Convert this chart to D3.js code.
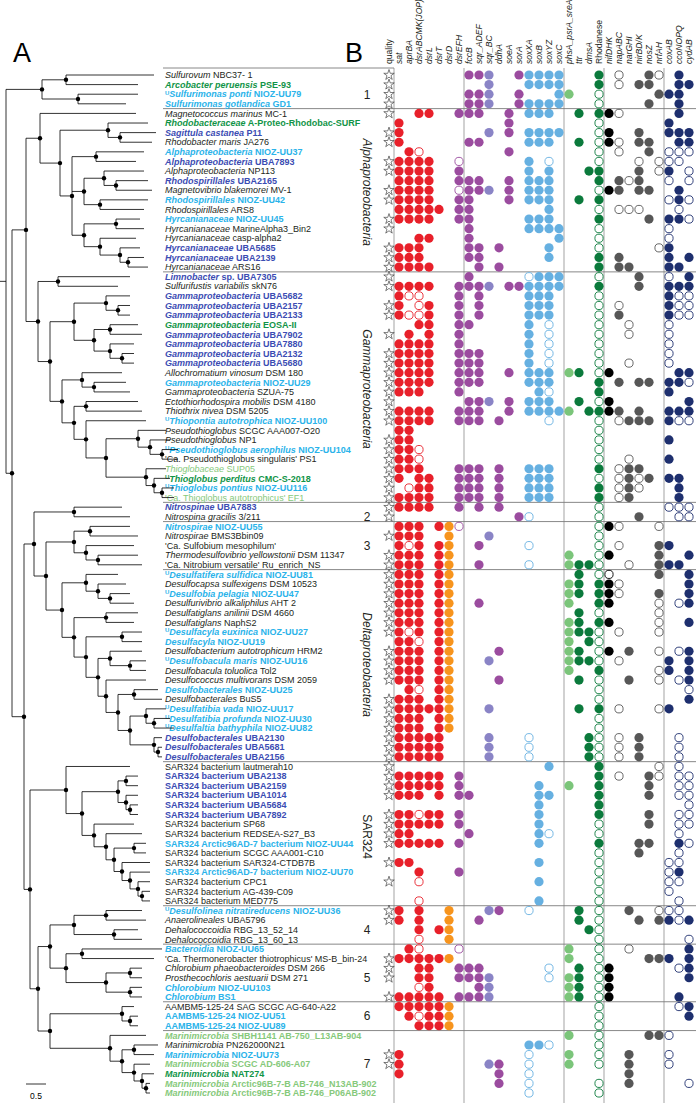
<!DOCTYPE html>
<html><head><meta charset="utf-8">
<script src="https://cdn.jsdelivr.net/npm/d3@7/dist/d3.min.js"></script>
<style>body{margin:0;background:#fff}svg text{font-family:"Liberation Sans",Arial,sans-serif}</style>
</head><body><svg id="c" width="696" height="1103"></svg>
<script>
// ---------------- DATA ----------------
const genes = ["sat","aprBA","dsrABCMK(JOP)","dsrL","dsrT","dsrD","dsrEFH","fccB","sqr_ADEF","sqr_BC","ddhA","soeA","sorA","soxXA","soxB","soxYZ","soxC","phsA_psrA_sreA","ttr","dmsA","Rhodanese","nifDHK","napABC","narGHI","nirBD/K","nosZ","nrfAH","coxAB","ccoNOPQ","cydAB"];
const geneGroup = ["r","r","r","r","r","o","p","p","p","v","p","p","p","b","b","b","b","lg","dg","dg","dg","k","gr","gr","gr","gr","gr","n","n","n"];
// taxa: [superscript U, italic part, plain part, label colour key]
const taxa = [
["","Sulfurovum"," NBC37- 1","k"],["","Arcobacter peruensis"," PSE-93","g"],["U","Sulfurimonas ponti"," NIOZ-UU79","b"],["","Sulfurimonas gotlandica"," GD1","b"],
["","Magnetococcus marinus"," MC-1","k"],["","Rhodobacteraceae"," A-Proteo-Rhodobac-SURF","g"],["","Sagittula castanea"," P11","d"],["","Rhodobacter maris"," JA276","k"],
["","Alphaproteobacteria"," NIOZ-UU37","b"],["","Alphaproteobacteria"," UBA7893","d"],["","Alphaproteobacteria"," NP113","k"],["","Rhodospirillales"," UBA2165","d"],
["","Magnetovibrio blakemorei"," MV-1","k"],["","Rhodospirillales"," NIOZ-UU42","b"],["","Rhodospirillales"," ARS8","k"],["","Hyrcanianaceae"," NIOZ-UU45","b"],
["","Hyrcanianaceae"," MarineAlpha3_Bin2","k"],["","Hyrcanianaceae"," casp-alpha2","k"],["","Hyrcanianaceae"," UBA5685","d"],["","Hyrcanianaceae"," UBA2139","d"],
["","Hyrcanianaceae"," ARS16","k"],["","Limnobacter"," sp. UBA7305","d"],["","Sulfurifustis variabilis"," skN76","k"],["","Gammaproteobacteria"," UBA5682","d"],
["","Gammaproteobacteria"," UBA2157","d"],["","Gammaproteobacteria"," UBA2133","d"],["","Gammaproteobacteria"," EOSA-II","g"],["","Gammaproteobacteria"," UBA7902","d"],
["","Gammaproteobacteria"," UBA7880","d"],["","Gammaproteobacteria"," UBA2132","d"],["","Gammaproteobacteria"," UBA5680","d"],["","Allochromatium vinosum"," DSM 180","k"],
["","Gammaproteobacteria"," NIOZ-UU29","b"],["","Gammaproteobacteria"," SZUA-75","k"],["","Ectothiorhodospira mobilis"," DSM 4180","k"],["","Thiothrix nivea"," DSM 5205","k"],
["U","Thiopontia autotrophica"," NIOZ-UU100","b"],["","Pseudothioglobus"," SCGC AAA007-O20","k"],["","Pseudothioglobus"," NP1","k"],["U","Pseudothioglobus aerophilus"," NIOZ-UU104","b"],
["","","'Ca. Pseudothioglobus singularis' PS1","k"],["","Thioglobaceae"," SUP05","lr"],["U","Thioglobus perditus"," CMC-S-2018","g"],["U","Thioglobus pontius"," NIOZ-UU116","b"],
["","","'Ca. Thioglobus autotrophicus' EF1","lr"],["","Nitrospinae"," UBA7883","d"],["","Nitrospina gracilis"," 3/211","k"],["","Nitrospirae"," NIOZ-UU55","b"],
["","Nitrospirae"," BMS3Bbin09","k"],["","","'Ca. Sulfobium mesophilum'","k"],["","Thermodesulfovibrio yellowstonii"," DSM 11347","k"],["","","'Ca. Nitrobium versatile' Ru_enrich_NS","k"],
["U","Desulfatifera sulfidica"," NIOZ-UU81","b"],["","Desulfocapsa sulfexigens"," DSM 10523","k"],["U","Desulfobia pelagia"," NIOZ-UU47","b"],["","Desulfurivibrio alkaliphilus"," AHT 2","k"],
["","Desulfatiglans anilinii"," DSM 4660","k"],["","Desulfatiglans"," NaphS2","k"],["U","Desulfacyla euxinica"," NIOZ-UU27","b"],["","Desulfacyla"," NIOZ-UU19","b"],
["","Desulfobacterium autotrophicum"," HRM2","k"],["U","Desulfobacula maris"," NIOZ-UU16","b"],["","Desulfobacula toluolica"," Tol2","k"],["","Desulfococcus multivorans"," DSM 2059","k"],
["","Desulfobacterales"," NIOZ-UU25","b"],["","Desulfobacterales"," BuS5","k"],["U","Desulfatibia vada"," NIOZ-UU17","b"],["U","Desulfatibia profunda"," NIOZ-UU30","b"],
["U","Desulfaltia bathyphila"," NIOZ-UU82","b"],["","Desulfobacterales"," UBA2130","d"],["","Desulfobacterales"," UBA5681","d"],["","Desulfobacterales"," UBA2156","d"],
["","","SAR324 bacterium lautmerah10","k"],["","","SAR324 bacterium UBA2138","d"],["","","SAR324 bacterium UBA2159","d"],["","","SAR324 bacterium UBA1014","d"],
["","","SAR324 bacterium UBA5684","d"],["","","SAR324 bacterium UBA7892","d"],["","","SAR324 bacterium SP68","k"],["","","SAR324 bacterium REDSEA-S27_B3","k"],
["","","SAR324 Arctic96AD-7 bacterium NIOZ-UU44","b"],["","","SAR324 bacterium SCGC AAA001-C10","k"],["","","SAR324 bacterium SAR324-CTDB7B","k"],["","","SAR324 Arctic96AD-7 bacterium NIOZ-UU70","b"],
["","","SAR324 bacterium CPC1","k"],["","","SAR324 bacterium AG-439-C09","k"],["","","SAR324 bacterium MED775","k"],["U","Desulfolinea nitratireducens"," NIOZ-UU36","b"],
["","Anaerolineales"," UBA5796","k"],["","Dehalococcoidia"," RBG_13_52_14","k"],["","Dehalococcoidia"," RBG_13_60_13","k"],["","Bacteroidia"," NIOZ-UU65","b"],
["","","'Ca. Thermonerobacter thiotrophicus' MS-B_bin-24","k"],["","Chlorobium phaeobacteroides"," DSM 266","k"],["","Prosthecochloris aestuarii"," DSM 271","k"],["","Chlorobium"," NIOZ-UU103","b"],
["","Chlorobium"," BS1","b"],["","","AAMBM5-125-24 SAG SCGC AG-640-A22","k"],["","","AAMBM5-125-24 NIOZ-UU51","b"],["","","AAMBM5-125-24 NIOZ-UU89","b"],
["","Marinimicrobia"," SHBH1141 AB-750_L13AB-904","l"],["","Marinimicrobia"," PN262000N21","k"],["","Marinimicrobia"," NIOZ-UU73","b"],["","Marinimicrobia"," SCGC AD-606-A07","l"],
["","Marinimicrobia"," NAT274","g"],["","Marinimicrobia"," Arctic96B-7-B AB-746_N13AB-902","l"],["","Marinimicrobia"," Arctic96B-7-B AB-746_P06AB-902","l"]
];
// quality star per taxon (1 = high quality)
const quality = [1,1,1,1,1,0,1,1,0,1, 1,0,1,1,0,1,1,0,1,1, 1,1,1,0,1,1,0,1,0,1, 1,1,1,1,1,1,1,0,1,1,
 1,1,1,1,1,1,1,0,1,0, 1,1,1,1,1,1,1,1,1,0, 1,1,1,1,0,1,1,1,1,1, 1,1,1,1,1,1,0,1,1,1,
 1,0,1,0,1,0,0,1,1,0, 0,0,1,1,1,0,1,0,0,0, 0,0,1,1,0,0,0];
// gene profile: X = present, o = partial, . = absent (30 genes, grouped by 5)
const profile = [
"..... ..XXX ..XXX XX... X.o.. Xo.X.","..... ....X ...XX XX... X.o.X X..XX","..... ..XXX ..X.. .XX.. o.... .XXX.","..... ..XXX ..XXX XX... o.... X..X.",
"..XX. .XXX. .X.XX X..X. XXo.. ...X.","X.... ..... .X... ..... o.... ..X..","X.... ....X .X.XX XX... oX..X ..XXX","X.... ..XX. ...XX X..X. oXo.X X..XX",
".Xo.. ..... .X... ..... o.o.. X.ooo","XXXX. .o... ...X. o.... o...o .ooo.","XXXX. .X... ...X. X...X X...X .oX.o","XXXX. .XXX. .X.XX X.... X.XoX ..o.o",
"XXXX. .oXXX .X.XX X.... oXX.X X..X.","XXXX. .XX.. .X.XX X..X. X.... ..oXo","XXXXX .XX.. ..... X.... o.ooo ...o.","XXXX. .XX.. ...XX X.... X.... X.XXo",
"..... ..X.. ...XX XX... o.... ..o..","..XX. ..X.. ..... .X... o.... ..o..","XXX.. ..XX. X.... X.... o.... .oX..","XXX.. ..XX. ..... X.... X.X.. ..X.X",
"XXXX. ...X. X.... ..... X.XX. ..XX.","..... ..X.. ...oX XX... o...X ..o.X","XXXX. .XXXX .XXXX XX... X...X ..XXX","Xoo.. .X.X. ...XX X.... o.... ..Xoo",
"X.oX. .X.X. ...XX X.... o.o.. ..Xoo","XooX. .X.X. ...XX X.... o.X.. ..Xoo","..XX. .XX.. ...X. o.... o..o. ..o..",".X.X. .X... ...X. o.... o..o. ..o..",
"XXXX. .X... ...X. o.... o.... ..o..","XXXX. .XXX. ...X. o.... o.... ..o..","XXXX. .XXX. ...X. o.... o..o. ..o..","XXXX. .XXX. .X.XX X.XX. oX... ...XX",
"XXXX. .XXX. ...XX X.... X.X.X X.XXo","XXX.. .X... ....X o.... X.... ..X..","..... ..XXX .X.XX X..X. oX... ....X","XXXX. .XXX. .X.XX XXX.X XXX.X ..XXX",
"XXXX. .XXX. X.... o.... o.oXX X.Xoo","XX... ..... ..... ..... o.... .....","XX... ..... ..... ..... o.... ..X..","XXo.. ..... ..... ..... o.... .....",
"XXo.. ..... ..... ..... o..o. ..X..","XXX.. .XXX. X..XX X.... X.oXX .....","X.XX. .XXX. X..XX X.... o.oXo X.XX.",".oXX. .XXX. X..XX X.... X.oXo ...X.",
"XXXX. .XXX. X..XX X.... X.oX. ...X.","XXXX. .X.X. X.... ..... o.... ..ooo","..... ..... ..Xo. ..... o...X ...oo","XXX.X Xo... ..... ..... oXo.. .o...",
"XXX.. X...X ..... ..... o.... .....","XoX.X X..X. ...o. ..... o.o.. .XX..","XXX.X X.... ..... ..X.. oX... .X..X","XXX.X X..X. ...o. ..XXX o..o. .XXX.",
"XXX.X X.... ..... ...X. oo... .X..X","XXX.X X.... ..... ..XX. XXo.. ....X","XXX.X X.... ..... ..XX. XXo.. .X..X","XXX.X X..X. ..... ..X.. XX... .o.oX",
"XXX.X X.... ..... ...X. o.... .o...","XXX.X X.... ..... ..XX. XX... .o..X","XoX.X X.... ..... ..XXX o.o.. .o...","XXo.X X.... ..... ..X.X o.... .....",
"XXX.X X.... X.... ..XX. oX.X. .o.oX","XXX.X X...X ..... ..XXX o.o.. ..X.X","XXX.X X.... ..... ..X.. X.... .oX.X","XXX.X X.... X.... ...X. o..X. .o.oX",
".Xo.X X.... ..... ..... o.... ....o","XXX.X X.... ..... ..... o.... ....X","XXXXX X...X ..... ...X. X.o.. .oX..","XXX.X X.... ..... ..... o.... .....",
"XXX.X X.... ..... ..... o.... .....","XXXXX ....X ...o. ....X o.o.X ...o.","XXXXX ....X ...o. ....X o.o.X ...o.","XXXXX ....X ...o. ....X o.o.X ...o.",
"..... ..... ..... X.... X.... .o.o.","XXXXX .X... ..... ..... X.o.. Xo.oo","XXXXX .X... ....X ..X.. X.... X..oo","XXX.X .XX.. ....X X.... X.... X..oo",
"..... ..... ....X ..... X.... ....o","XXoXX .X... ....X ..... X.... X..oo","XXXXX .X... ....X ..... o.... X..oo","XX... ..X.. ....X o.... o.... ...o.",
"XXXXX .X... ....X ..... X...X X..Xo","..... ..... ..... ..... o...X ...o.","XX... ..... ....X ..... o.... ..oo.","..X.. .X... ..... ..... o.... ..oX.",
"..o.. ..... ....X ..... o.... ..oo.","..... ..... ..... ..... o.... ..o..","..o.. ..... ....X ..... o.... ...o.","X.X.. X...X X..o. ...X. o..X. .ooo.",
"X.X.. X..X. ..... ...X. o...X .XXoX","..X.X X.... ..... ....X o.... .....","..o.. X.... ..... ..... o.... ....o",".Xo.. .o... ..... ..X.. o..o. ....X",
"XXXXX X.... ..... ..X.. o.... XXX.X","..XX. .XXX. ..... o..X. oX... ...oX","..XX. .XXXX ..... o.XX. oX... ....X","..oX. ...XX ..... ..XX. oX... .....",
"XXXXX .XXXX ..... ..XX. oX... ...X.","XXXXX X.... ..... ..... o.... ...oX",".XoXX X.... ..... ..... o.... ....X","..XXX X.... ..... ..... o.... .....",
"..... ..... ..... ..X.. o.... XXo..","..... ..... ...XX o.... o.... .....","X.... ..... ...o. ..X.. o..X. ..o..","X.... ....X X..o. ..X.. o..X. ..o..",
"X.... ..... X..o. ..... ...X. .....","..... ..... X..o. ..... o..X. ....o","..... ..... ...o. ..... o.... ....."
];
// clade separators: index of first row of each new block
const blockStarts = [4,21,45,47,52,72,87,91,97,100];
const cladeLabels = [["1",2,0],["Alphaproteobacteria",12.2,1],["Gammaproteobacteria",32.7,1],["2",46,0],["3",49,0],["Deltaproteobacteria",61.4,1],["SAR324",79.3,2],["4",89,0],["5",94,0],["6",98,0],["7",103,0]];
// phylogeny (Newick, branch lengths in substitutions/site, * = supported node)
const epsilon = "((1:2.2,2:1.8)*:0.6,(3:1.5,4:1.2)*:0.9)*";
const alpha = "(5:2.4,((6:1.0,(7:0.9,8:0.8)*:0.3)*:1.2,((9:1.2,10:1.0)*:0.6,((11:1.0,(12:0.8,13:0.9)*:0.3)*:0.5,(14:1.2,15:1.1)*:0.4)*:0.3,((16:0.6,17:0.7)*:0.8,(18:0.9,(19:0.5,(20:0.4,21:0.5)*:0.2)*:0.5)*:0.4)*:0.3)*:0.3)*:0.5)*";
const gamma = "((22:1.8,23:1.5)*:0.5,(((24:0.6,(25:0.3,26:0.3)*:0.3)*:0.8,((27:0.7,28:0.8)*:0.4,(29:0.6,(30:0.3,31:0.3)*:0.3)*:0.4)*:0.5)*:0.6,((32:1.0,(33:0.8,34:0.9)*:0.3)*:0.5,((35:1.3,36:1.4)*:0.3,(37:1.5,((38:0.7,(39:0.5,(40:0.4,41:0.4)*:0.3)*:0.3)*:0.8,(42:0.5,(43:0.4,(44:0.3,45:0.3)*:0.2)*:0.2)*:1.0)*:0.5)*:0.3)*:0.3)*:0.3)*:0.3)*";
const nitrospinae = "(46:1.2,47:1.4)*";
const nitrospirae = "((48:1.0,49:1.2)*:0.4,(50:1.2,(51:1.0,52:1.1)*:0.3)*:0.3)*";
const delta = "((53:0.8,(54:0.7,(55:0.5,56:0.6)*:0.3)*:0.3)*:0.6,((57:0.8,58:0.7)*:0.8,((59:0.5,60:0.5)*:0.9,((61:0.8,(62:0.4,63:0.4)*:0.5)*:0.3,(64:1.0,((65:0.6,66:0.7)*:0.4,((67:0.5,(68:0.4,69:0.5)*:0.2)*:0.4,(70:0.2,(71:0.1,72:0.1)*:0.1)*:0.6)*:0.3)*:0.3)*:0.2)*:0.3)*:0.3)*:0.3)*";
const sar324 = "(73:1.6,(((74:0.3,75:0.3)*:0.2,(76:0.3,(77:0.2,78:0.2)*:0.1)*:0.2)*:0.9,(79:1.0,(80:0.9,((81:0.3,82:0.3)*:0.5,(83:0.7,(84:0.5,(85:0.3,(86:0.2,87:0.2)*:0.1)*:0.2)*:0.2)*:0.2)*:0.2)*:0.3)*:0.3)*:0.4)*";
const chloroflexi = "((88:0.9,89:1.0)*:0.8,(90:0.6,91:0.7)*:1.0)*";
const chlorobi = "((92:2.0,93:1.8)*:0.4,((94:0.3,95:0.3)*:0.6,(96:0.3,97:0.3)*:0.6)*:1.0)*";
const aambm5 = "(98:0.3,(99:0.2,100:0.2)*:0.2)*";
const marini = "(101:0.9,((102:0.6,103:0.5)*:0.3,(104:0.4,(105:0.3,(106:0.1,107:0.1)*:0.1)*:0.2)*:0.3)*:0.3)*";
const newick = "("+epsilon+":0.9,(("+alpha+":0.35,"+gamma+":0.3)*:0.35,(("+nitrospinae+":1.0,("+nitrospirae+":0.7,"+delta+":0.4)*:0.3)*:0.25,("+sar324+":0.9,(("+chloroflexi+":0.6,"+chlorobi+":0.4)*:0.3,("+aambm5+":1.8,"+marini+":1.5)*:0.3)*:0.2)*:0.15)*:0.3)*:0.15);";

// ---------------- DRAW ----------------
const svg = d3.select("#c");
const labelCol = {k:"#231f20",g:"#119447",b:"#2ab3ea",d:"#3b4cb3",l:"#86c97b",lr:"#86c97b"};
const geneCol = {r:"#e8202a",o:"#f7941d",p:"#9b4c9f",v:"#8a84c6",b:"#66b0e1",lg:"#7bc57a",dg:"#0b7a3c",k:"#000000",gr:"#575757",n:"#1e2f6e"};

const n = taxa.length;
const y = d3.scaleLinear().domain([0, n-1]).range([75, 1093]);
const x = d3.scalePoint().domain(d3.range(genes.length)).range([399, 689]);
const starX = 389;

// vertical separators
const sepAfter = [-1,6,16,20,26];
svg.append("g").selectAll("line").data(sepAfter).join("line")
  .attr("x1", d => d<0 ? (starX + x(0))/2 : (x(d)+x(d+1))/2).attr("x2", d => d<0 ? (starX + x(0))/2 : (x(d)+x(d+1))/2)
  .attr("y1", 68).attr("y2", 1103).attr("stroke", "#c6c6c6").attr("stroke-width", 1.6);

// horizontal separators
svg.append("g").selectAll("line").data(blockStarts).join("line")
  .attr("x1", 163).attr("x2", 696).attr("y1", d => (y(d)+y(d-1))/2).attr("y2", d => (y(d)+y(d-1))/2)
  .attr("stroke", "#7a7a7a").attr("stroke-width", 0.9);
svg.append("line").attr("x1",163).attr("x2",(starX + x(0))/2).attr("y1",68).attr("y2",68).attr("stroke","#7a7a7a").attr("stroke-width",0.9);

// column headers
const hdr = svg.append("g").attr("font-size", 8.6).attr("fill", "#231f20");
hdr.append("text").attr("transform", `translate(${starX+3},64) rotate(-90)`).text("quality");
genes.forEach((gname, i) => {
  hdr.append("text").attr("transform", `translate(${x(i)+3},64) rotate(-90)`)
    .attr("font-style", gname === "Rhodanese" ? "normal" : "italic").text(gname);
});

// taxon labels
const lab = svg.append("g").attr("font-size", 9);
taxa.forEach((t, i) => {
  const [u, it, rest, c] = t;
  const bold = (c !== "k" && c !== "lr");
  const tx = lab.append("text").attr("x", 165).attr("y", y(i) + 3.2).attr("fill", labelCol[c]).attr("font-weight", bold ? "bold" : "normal");
  if (u) { tx.append("tspan").attr("font-size", 6).attr("dy", -2.8).text(u); }
  if (it) tx.append("tspan").attr("font-style", "italic").attr("dy", u ? 2.8 : 0).text(it);
  tx.append("tspan").attr("dy", (u && !it) ? 2.8 : 0).text(rest);
});

// quality stars
const star = d3.symbol().type(d3.symbolStar).size(34);
svg.append("g").selectAll("path").data(quality.map((q,i)=>[q,i]).filter(d=>d[0])).join("path")
  .attr("d", star).attr("transform", d => `translate(${starX},${y(d[1])})`)
  .attr("fill", "#fff").attr("stroke", "#444").attr("stroke-width", 0.7);

// gene circles
const cells = [];
profile.forEach((row, i) => {
  row.replace(/ /g, "").split("").forEach((ch, j) => { if (ch !== ".") cells.push({i, j, open: ch === "o"}); });
});
svg.append("g").selectAll("circle").data(cells).join("circle")
  .attr("cx", d => x(d.j)).attr("cy", d => y(d.i))
  .attr("r", d => d.open ? 4.1 : 4.6)
  .attr("fill", d => d.open ? "#fff" : geneCol[geneGroup[d.j]])
  .attr("stroke", d => d.open ? geneCol[geneGroup[d.j]] : "none")
  .attr("stroke-width", 0.9);

// clade labels
const cl = svg.append("g").attr("font-size", 12).attr("fill", "#231f20");
cladeLabels.forEach(([t, r, rot]) => {
  if (rot) {
    cl.append("text").attr("transform", `translate(363,${y(r)}) rotate(90)`).attr("text-anchor", "middle")
      .attr("font-style", rot === 1 ? "italic" : "normal").text(t);
  } else {
    cl.append("text").attr("x", 367).attr("y", y(r) + 4.3).attr("text-anchor", "middle").text(t);
  }
});

// panel letters
svg.append("text").attr("x", 13).attr("y", 62).attr("font-size", 27).text("A");
svg.append("text").attr("x", 345).attr("y", 62).attr("font-size", 27).text("B");

// ---------------- TREE ----------------
function parseNewick(s) {
  let i = 0;
  function node() {
    const nd = {children: []};
    if (s[i] === "(") { i++; nd.children.push(node()); while (s[i] === ",") { i++; nd.children.push(node()); } i++; }
    let name = ""; while (i < s.length && !":,);".includes(s[i])) name += s[i++];
    nd.name = name; nd.length = 0;
    if (s[i] === ":") { i++; let num = ""; while (i < s.length && !",);".includes(s[i])) num += s[i++]; nd.length = +num; }
    return nd;
  }
  return node();
}
const root = d3.hierarchy(parseNewick(newick), d => d.children.length ? d.children : null);
root.eachBefore(d => { d.dist = (d.parent ? d.parent.dist : 0) + (d.parent ? d.data.length : 0); });
const tx = d3.scaleLinear().domain([0, 1]).range([6, 46]);
root.eachAfter(d => {
  if (!d.children) d.py = y(+d.data.name - 1);
  else d.py = (d.children[0].py + d.children[d.children.length-1].py) / 2;
  d.px = tx(d.dist);
});
const tg = svg.append("g").attr("stroke", "#000").attr("stroke-width", 0.8).attr("fill", "none");
root.descendants().forEach(d => {
  const x0 = d.parent ? d.parent.px : 0;
  tg.append("line").attr("x1", x0).attr("x2", d.px).attr("y1", d.py).attr("y2", d.py);
  if (d.children) tg.append("line").attr("x1", d.px).attr("x2", d.px).attr("y1", d.children[0].py).attr("y2", d.children[d.children.length-1].py);
});
svg.append("g").selectAll("circle").data(root.descendants().filter(d => d.children && d.data.name === "*")).join("circle")
  .attr("cx", d => d.px).attr("cy", d => d.py).attr("r", 2.2).attr("fill", "#000");

// scale bar
svg.append("line").attr("x1", tx(0) + 20).attr("x2", tx(0.5) + 20).attr("y1", 1084).attr("y2", 1084).attr("stroke", "#000").attr("stroke-width", 0.8);
svg.append("text").attr("x", (tx(0)+tx(0.5))/2 + 20).attr("y", 1099).attr("text-anchor", "middle").attr("font-size", 8.5).text("0.5");
</script></body></html>
